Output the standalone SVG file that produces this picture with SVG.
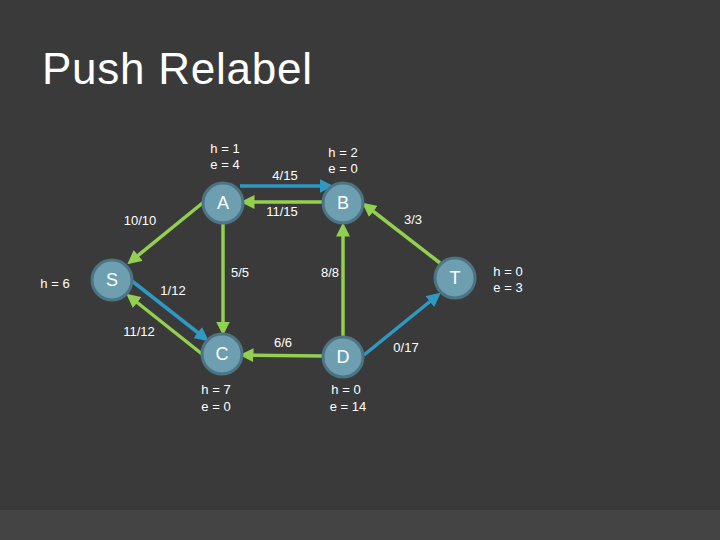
<svg xmlns="http://www.w3.org/2000/svg" width="720" height="540" viewBox="0 0 720 540">
<defs>
<marker id="ag" markerWidth="4" markerHeight="4" refX="3" refY="2" orient="auto" markerUnits="strokeWidth"><path d="M0,0 L4,2 L0,4 Z" fill="#92d050"/></marker>
<marker id="ab" markerWidth="4" markerHeight="4" refX="3" refY="2" orient="auto" markerUnits="strokeWidth"><path d="M0,0 L4,2 L0,4 Z" fill="#2e9ac4"/></marker>
<style>
.g{stroke:#92d050;stroke-width:3.5;fill:none;marker-end:url(#ag)}
.b{stroke:#2e9ac4;stroke-width:3.5;fill:none;marker-end:url(#ab)}
.n{fill:#6d9fb1;stroke:#4d7484;stroke-width:3}
.nl{font-family:"Liberation Sans",Arial,sans-serif;font-size:18px;fill:#fff;text-anchor:middle}
.t{font-family:"Liberation Sans",Arial,sans-serif;font-size:13px;fill:#fff;text-anchor:middle}
</style>
</defs>
<rect width="720" height="540" fill="#3a3a3a"/>
<rect y="510" width="720" height="30" fill="#444"/>
<text x="42" y="84" font-family="'Liberation Sans',Arial,sans-serif" font-size="44" fill="#fff" textLength="270">Push Relabel</text>
<g id="connectors">
<line class="b" x1="240" y1="186" x2="330" y2="186"/>
<line class="g" x1="327" y1="202" x2="244" y2="202"/>
<line class="g" x1="205" y1="201" x2="130" y2="262"/>
<line class="b" x1="132" y1="281" x2="206" y2="339"/>
<line class="g" x1="202" y1="354" x2="129" y2="296"/>
<line class="g" x1="223" y1="224" x2="223" y2="332"/>
<line class="g" x1="343" y1="336" x2="343" y2="226"/>
<line class="g" x1="440" y1="263" x2="365" y2="205"/>
<line class="b" x1="364" y1="355" x2="438" y2="295"/>
<line class="g" x1="322" y1="356" x2="243" y2="355"/>
</g>
<g id="A"><circle class="n" cx="223" cy="203" r="20"/><text class="nl" x="223" y="209">A</text></g>
<g id="B"><circle class="n" cx="343" cy="203" r="20"/><text class="nl" x="343" y="209">B</text></g>
<g id="S"><circle class="n" cx="112" cy="280" r="20"/><text class="nl" x="112" y="286">S</text></g>
<g id="C"><circle class="n" cx="222" cy="354" r="20"/><text class="nl" x="222" y="360">C</text></g>
<g id="D"><circle class="n" cx="343" cy="357" r="20"/><text class="nl" x="343" y="363">D</text></g>
<g id="T"><circle class="n" cx="455" cy="278" r="20"/><text class="nl" x="455" y="284">T</text></g>
<g id="labels">
<text class="t" x="225" y="153">h = 1</text><text class="t" x="225" y="169">e = 4</text>
<text class="t" x="343" y="157">h = 2</text><text class="t" x="343" y="173">e = 0</text>
<text class="t" x="285" y="180">4/15</text>
<text class="t" x="282" y="216">11/15</text>
<text class="t" x="140" y="225">10/10</text>
<text class="t" x="413" y="224">3/3</text>
<text class="t" x="55" y="288">h = 6</text>
<text class="t" x="173" y="295">1/12</text>
<text class="t" x="240" y="277">5/5</text>
<text class="t" x="330" y="277">8/8</text>
<text class="t" x="508" y="276">h = 0</text><text class="t" x="508" y="292">e = 3</text>
<text class="t" x="139" y="336">11/12</text>
<text class="t" x="283" y="347">6/6</text>
<text class="t" x="406" y="352">0/17</text>
<text class="t" x="216" y="394">h = 7</text><text class="t" x="216" y="411">e = 0</text>
<text class="t" x="346" y="394">h = 0</text><text class="t" x="348" y="411">e = 14</text>
</g>
</svg>
